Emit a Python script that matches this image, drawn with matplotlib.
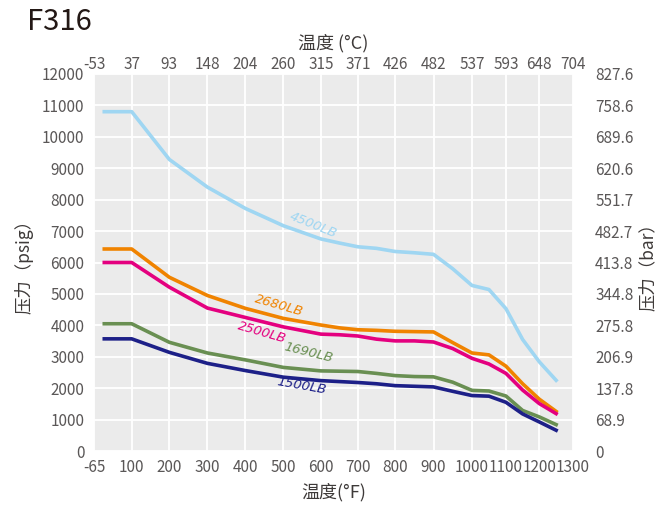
import numpy as np
import matplotlib
matplotlib.use('Agg')
import matplotlib.pyplot as plt

plt.rcParams['font.family'] = ['Noto Sans CJK SC', 'DejaVu Sans']

# temperatures in degF, pressures in psig
temp_f = [-20, 100, 200, 300, 400, 500, 600, 650, 700, 750, 800, 850, 900,
          950, 1000, 1050, 1100, 1150, 1200, 1250]
p_4500 = [10800, 10800, 9280, 8400, 7720, 7170, 6750, 6620, 6500, 6450, 6350,
          6310, 6260, 5800, 5270, 5140, 4530, 3550, 2840, 2250]
p_2680 = [6430, 6430, 5530, 4950, 4540, 4220, 4010, 3920, 3860, 3840, 3810,
          3800, 3790, 3450, 3120, 3060, 2700, 2140, 1650, 1260]
p_2500 = [6000, 6000, 5215, 4550, 4250, 3950, 3720, 3700, 3660, 3560, 3505,
          3505, 3470, 3260, 2950, 2770, 2470, 1940, 1510, 1190]
p_1690 = [4050, 4050, 3460, 3120, 2900, 2660, 2550, 2540, 2530, 2470, 2400,
          2370, 2360, 2190, 1930, 1910, 1750, 1290, 1085, 840]
p_1500 = [3570, 3570, 3140, 2790, 2560, 2350, 2240, 2210, 2180, 2140, 2080,
          2060, 2040, 1900, 1765, 1745, 1550, 1180, 925, 660]

f_ticks = [-65, 100, 200, 300, 400, 500, 600, 700, 800, 900, 1000, 1100, 1200, 1300]
c_labels = ['-53', '37', '93', '148', '204', '260', '315', '371', '426', '482',
            '537', '593', '648', '704']
psi_ticks = list(range(0, 12001, 1000))
bar_labels = ['0', '68.9', '137.8', '206.9', '275.8', '344.8', '413.8', '482.7',
              '551.7', '620.6', '689.6', '758.6', '827.6']

# the original x axis is not linear: spacing of each tick on screen
tick_pos = [0, 37.7, 75.3, 113.3, 151.3, 189.3, 226.7, 263.7, 301, 339.3,
            377.7, 411.7, 445, 478.7]


def fwd(x):
    return np.interp(x, f_ticks, tick_pos)


def inv(u):
    return np.interp(u, tick_pos, f_ticks)


series = [
    ('4500LB', p_4500, '#9fd6f2', (580, 7180), -22),
    ('2680LB', p_2680, '#f08300', (488, 4630), -16),
    ('2500LB', p_2500, '#e4007f', (444, 3760), -16),
    ('1690LB', p_1690, '#698f52', (568, 3120), -14),
    ('1500LB', p_1500, '#1d2088', (549, 2080), -10),
]

tick_color = '#5a5757'
label_color = '#3e3a39'

fig = plt.figure(figsize=(6.62, 5.09), dpi=100)
ax = fig.add_axes([94 / 662, 1 - 451 / 509, (573 - 94) / 662, (451 - 74) / 509])
ax.set_facecolor('#ebebeb')
ax.set_xscale('function', functions=(fwd, inv))

for name, vals, color, (lx, ly), rot in series:
    ax.plot(temp_f, vals, color=color, lw=2.6, solid_joinstyle='round', zorder=3)
    ax.text(lx, ly, name, color=color, fontsize=9.5, rotation=rot, style='italic',
            ha='center', va='center', zorder=4, family=['DejaVu Sans'])

ax.set_xlim(-65, 1300)
ax.set_ylim(0, 12000)
ax.set_xticks(f_ticks)
ax.set_xticklabels([str(t) for t in f_ticks])
ax.set_yticks(psi_ticks)
ax.grid(True, color='white', lw=1.3)
ax.set_axisbelow(True)
for s in ax.spines.values():
    s.set_visible(False)
ax.tick_params(length=0, colors=tick_color, labelsize=11)
ax.tick_params(axis='x', pad=6)
ax.tick_params(axis='y', pad=7)
ax.set_xlabel('温度(°F)', fontsize=13, color=label_color, labelpad=5)
ax.set_ylabel('压力（psig）', fontsize=12.5, color=label_color, labelpad=6)

# top axis in degC
axt = ax.twiny()
axt.set_xscale('function', functions=(fwd, inv))
axt.set_xlim(ax.get_xlim())
axt.set_xticks(f_ticks)
axt.set_xticklabels(c_labels)
axt.tick_params(length=0, colors=tick_color, labelsize=11, pad=1)
axt.set_xlabel('温度 (°C)', fontsize=13, color=label_color, labelpad=5)
for s in axt.spines.values():
    s.set_visible(False)

# right axis in bar
axr = ax.twinx()
axr.set_ylim(ax.get_ylim())
axr.set_yticks(psi_ticks)
axr.set_yticklabels(bar_labels)
axr.tick_params(length=0, colors=tick_color, labelsize=11, pad=16)
axr.set_ylabel('压力（bar）', fontsize=12.5, color=label_color, labelpad=4)
for s in axr.spines.values():
    s.set_visible(False)

fig.text(27 / 662, 1 - 22 / 509, 'F316', fontsize=21, color='#231815',
         ha='left', va='center')

fig.savefig('out.png', dpi=100)
